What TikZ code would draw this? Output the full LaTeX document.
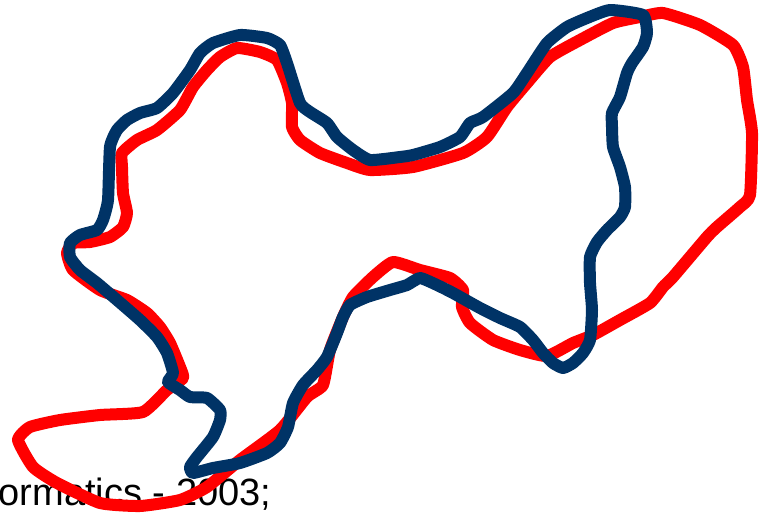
\documentclass[tikz,border=0pt]{standalone}
\usepackage{fontspec}
\setmainfont{Liberation Sans}
\definecolor{outlinered}{RGB}{255,0,0}
\definecolor{outlineblue}{RGB}{0,51,102}

\begin{document}
\begin{tikzpicture}[
    x=1pt, y=-1pt,
    every node/.style={font=\fontsize{38}{40}\selectfont},
    outline/.style={line width=12pt, line join=round, line cap=round},
    redline/.style={outline, draw=outlinered},
    blueline/.style={outline, draw=outlineblue}
]
\useasboundingbox (0,0) rectangle (769,512);
\clip (0,0) rectangle (769,512);
\node[anchor=base west, inner sep=0pt] (source) at (-1.5,505) {ormatics - 2003;};
% red outline
\draw[redline] plot[smooth cycle, tension=0.3] coordinates {
    (183,378) (167,390) (143,412) (100,415) (60,420) (30,427) (18,440)
    (33,467) (57,483) (100,503) (140,506) (180,500) (207,487) (240,460)
    (280,430) (307,397) (323,385) (330,350) (343,317) (353,297) (373,277)
    (393,262) (420,270) (450,278) (463,290) (462,307) (470,323) (493,340)
    (520,350) (547,356) (573,343) (593,335) (620,320) (650,303) (663,287)
    (673,277) (707,237) (717,227) (740,207) (750,195) (752,133) (747,100)
    (743,67) (733,45) (700,25) (663,13) (640,17) (613,23) (580,40)
    (550,57) (527,83) (507,107) (487,137) (463,153) (413,167) (370,170)
    (347,163) (320,153) (300,140) (292,127) (292,103) (287,83) (277,60)
    (260,52) (237,48) (220,57) (207,70) (193,87) (180,110) (157,130)
    (137,140) (122,153) (122,167) (123,193) (127,213) (123,227) (110,237)
    (90,242) (73,243) (67,253) (73,270) (100,290) (127,300) (147,313)
    (160,327) (170,343) (180,367)};
% blue outline
\draw[blueline] plot[smooth cycle, tension=0.3] coordinates {
    (108,200) (110,147) (117,130) (127,120) (140,113) (157,108) (173,93)
    (190,70) (200,53) (213,43) (240,35) (267,38) (280,45) (287,63)
    (300,103) (310,112) (327,123) (337,137) (353,150) (370,160) (400,157)
    (413,155) (440,147) (460,137) (470,123) (483,117) (513,93) (527,73)
    (547,43) (567,27) (587,18) (610,10) (643,15) (647,33) (643,47)
    (632,63) (627,73) (620,97) (612,113) (612,127) (613,147) (620,167)
    (625,187) (625,207) (620,217) (607,230) (597,242) (590,257) (590,283)
    (592,310) (590,340) (583,353) (573,363) (563,368) (553,363) (543,353)
    (533,340) (520,327) (500,318) (480,308) (453,293) (437,285) (420,278)
    (407,285) (390,290) (367,297) (350,305) (343,317) (337,333) (327,357)
    (317,370) (303,385) (293,403) (288,427) (280,443) (267,453) (240,463)
    (213,468) (193,473) (190,467) (197,457) (213,437) (220,420) (220,410)
    (207,398) (190,397) (180,390) (168,382) (173,373) (167,353) (157,337)
    (140,320) (117,300) (97,283) (80,270) (70,257) (70,243) (80,235)
    (97,230) (103,220)};
\end{tikzpicture}
\end{document}
